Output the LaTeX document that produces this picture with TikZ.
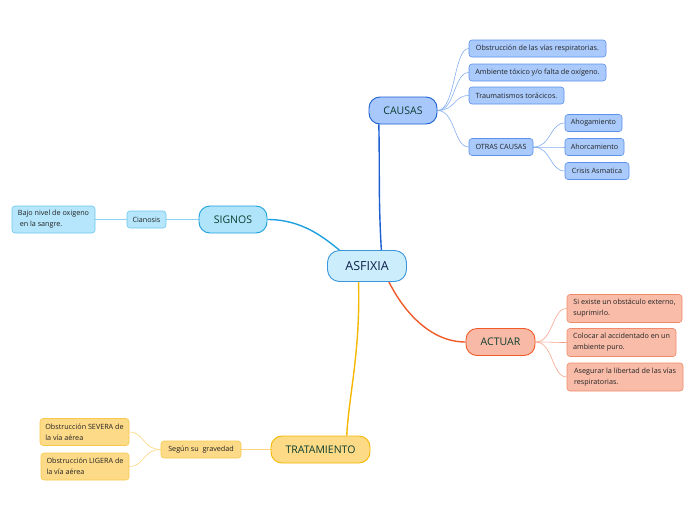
\documentclass[tikz,border=0pt]{standalone}
\usepackage{fontspec}
\setmainfont{Open Sans}
\usetikzlibrary{backgrounds}
\definecolor{bbf}{HTML}{A8C8FB}\definecolor{bbd}{HTML}{1B5FD1}
\definecolor{bsf}{HTML}{AACAFB}\definecolor{bsd}{HTML}{5C91EA}\definecolor{bsl}{HTML}{84AEF0}
\definecolor{cmf}{HTML}{CBEDFC}\definecolor{cmd}{HTML}{3A95DC}
\definecolor{cbf}{HTML}{B0E4FA}\definecolor{cbd}{HTML}{1EA0E0}
\definecolor{csf}{HTML}{B5E6FB}\definecolor{csd}{HTML}{6CC7F0}\definecolor{csl}{HTML}{8AD3F4}
\definecolor{obf}{HTML}{F8BAA6}\definecolor{obd}{HTML}{F05A28}
\definecolor{osf}{HTML}{F8BCA9}\definecolor{osd}{HTML}{F08A6A}\definecolor{osl}{HTML}{F6A58C}
\definecolor{ybf}{HTML}{FDDA86}\definecolor{ybd}{HTML}{F5B700}
\definecolor{ysf}{HTML}{FDDA88}\definecolor{ysd}{HTML}{F7C94A}\definecolor{ysl}{HTML}{F9D67A}
\definecolor{btxt}{HTML}{0B3D2E}\definecolor{stxt}{HTML}{222222}\definecolor{mtxt}{HTML}{10204A}
\tikzset{
  mainbox/.style={draw=cmd,fill=cmf,line width=0.9pt,rounded corners=12pt,minimum width=79pt,minimum height=31pt,font=\fontsize{12.5}{14}\selectfont,text=mtxt,inner sep=0pt},
  branch/.style={line width=0.9pt,rounded corners=11pt,minimum height=27pt,font=\fontsize{10.5}{12}\selectfont,text=btxt,inner sep=0pt},
  sub/.style={line width=0.6pt,rounded corners=3pt,minimum height=17pt,font=\fontsize{7.2}{8}\selectfont,text=stxt,inner sep=0pt,align=center},
  subtwo/.style={sub,align=left,inner xsep=0pt,inner ysep=3pt,font=\fontsize{7.2}{11}\selectfont},
}
\begin{document}
\begin{tikzpicture}[x=1pt,y=-1pt]
\useasboundingbox (0,0) rectangle (696,520);
% main
\node[mainbox] (asf) at (367,266) {ASFIXIA};
% branches
\node[branch,draw=bbd,fill=bbf,minimum width=68pt] (cau) at (403,110.5) {CAUSAS};
\node[branch,draw=cbd,fill=cbf,minimum width=68pt] (sig) at (233,219.5) {SIGNOS};
\node[branch,draw=obd,fill=obf,minimum width=69pt] (act) at (500.5,342) {ACTUAR};
\node[branch,draw=ybd,fill=ybf,minimum width=99pt] (tra) at (320.5,449.5) {TRATAMIENTO};
% causas subs
\tikzset{bsub/.style={sub,draw=bsd,fill=bsf}}
\node[bsub,minimum width=137pt] (c1) at (537.5,48.5) {Obstrucción de las vías respiratorias.};
\node[bsub,minimum width=137pt] (c2) at (537.5,72.5) {Ambiente tóxico y/o falta de oxígeno.};
\node[bsub,minimum width=95pt] (c3) at (516.5,95.5) {Traumatismos torácicos.};
\node[bsub,minimum width=64pt] (c4) at (501,147) {OTRAS CAUSAS};
\node[bsub,minimum width=57pt] (c41) at (593.5,123) {Ahogamiento};
\node[bsub,minimum width=59pt] (c42) at (594.5,147) {Ahorcamiento};
\node[bsub,minimum width=64pt] (c43) at (597,171) {Crisis Asmatica};
% signos subs
\node[sub,draw=csd,fill=csf,minimum width=39pt] (cia) at (146.5,219.5) {Cianosis};
\node[subtwo,draw=csd,fill=csf,minimum width=83pt,minimum height=27pt] (baj) at (53.5,219.5) {Bajo nivel de oxigeno\\ \ en la sangre.};
% actuar subs
\tikzset{osub/.style={subtwo,draw=osd,fill=osf,minimum height=28pt}}
\node[osub,minimum width=115pt] (a1) at (624.5,308.5) {Si existe un obstáculo externo,\\ suprimirlo.};
\node[osub,minimum width=109pt] (a2) at (621.5,342.5) {Colocar al accidentado en un\\ ambiente puro.};
\node[osub,minimum width=116pt] (a3) at (625,377) {Asegurar la libertad de las vías\\ respiratorias.};
% tratamiento subs
\tikzset{ysub/.style={sub,draw=ysd,fill=ysf}}
\node[ysub,minimum width=80pt] (seg) at (201,449.5) {Según su\ \ gravedad};
\node[subtwo,draw=ysd,fill=ysf,minimum width=89pt,minimum height=27pt] (t1) at (84.5,432) {Obstrucción SEVERA de\\ la vía aérea};
\node[subtwo,draw=ysd,fill=ysf,minimum width=88pt,minimum height=27pt] (t2) at (85,466.5) {Obstrucción LIGERA de\\ la vía aérea};
% connectors
\begin{scope}[on background layer]
\draw[bbd,line width=1.4pt] (asf.48) .. controls +(-3,-50) and +(1,50) .. (cau.210);
\draw[cbd,line width=1.4pt] (sig.east) .. controls +(35,0) and +(-15,-12) .. (asf.150);
\draw[obd,line width=1.4pt] (asf.-36) .. controls +(15,30) and +(-35,0) .. (act.west);
\draw[ybd,line width=1.4pt] (asf.-118) .. controls +(2,70) and +(2,-40) .. (tra.28);
\foreach \c in {c1,c2,c3,c4}{\draw[bsl,line width=0.6pt] (cau.east) .. controls +(18,0) and +(-15,0) .. (\c.west);}
\foreach \c in {c41,c42,c43}{\draw[bsl,line width=0.6pt] (c4.east) .. controls +(18,0) and +(-15,0) .. (\c.west);}
\draw[csl,line width=0.6pt] (sig.west) -- (cia.east);
\draw[csl,line width=0.6pt] (cia.west) -- (baj.east);
\foreach \c in {a1,a2,a3}{\draw[osl,line width=0.6pt] (act.east) .. controls +(18,0) and +(-15,0) .. (\c.west);}
\draw[ysl,line width=0.6pt] (tra.west) -- (seg.east);
\foreach \c in {t1,t2}{\draw[ysl,line width=0.6pt] (seg.west) .. controls +(-18,0) and +(15,0) .. (\c.east);}
\end{scope}
\end{tikzpicture}
\end{document}
